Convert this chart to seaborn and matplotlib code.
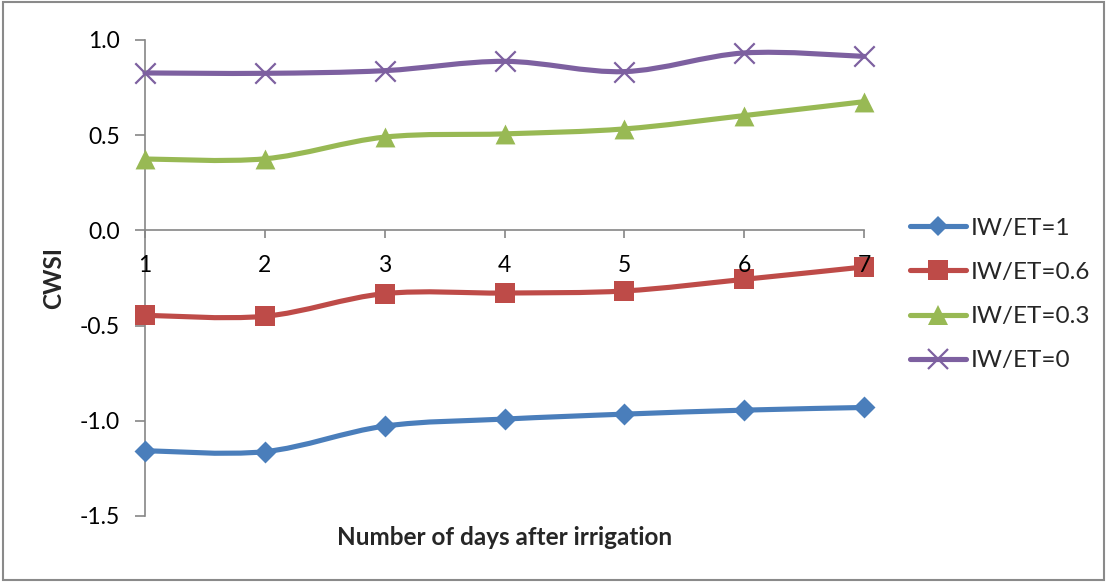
import numpy as np
import matplotlib
matplotlib.use("Agg")
import matplotlib.pyplot as plt
import seaborn as sns
from matplotlib.path import Path
from matplotlib.patches import PathPatch, Rectangle
from matplotlib.lines import Line2D

# ---- data ----
days = [1, 2, 3, 4, 5, 6, 7]
cwsi_iw1 = [-1.157, -1.162, -1.028, -0.991, -0.965, -0.944, -0.930]
cwsi_iw06 = [-0.446, -0.451, -0.332, -0.329, -0.318, -0.257, -0.192]
cwsi_iw03 = [0.375, 0.376, 0.490, 0.507, 0.533, 0.603, 0.676]
cwsi_iw0 = [0.827, 0.825, 0.839, 0.888, 0.834, 0.932, 0.914]
series_labels = ["IW/ET=1", "IW/ET=0.6", "IW/ET=0.3", "IW/ET=0"]
y_ticks = [-1.5, -1.0, -0.5, 0.0, 0.5, 1.0]
x_label = "Number of days after irrigation"
y_label = "CWSI"

series_values = [cwsi_iw1, cwsi_iw06, cwsi_iw03, cwsi_iw0]
colors = ["#4A7EBB", "#BE4B48", "#98B954", "#7D60A0"]
markers = ["D", "s", "^", "x"]
scatter_sizes = [125, 205, 205, 215]
legend_msizes = [10.5, 14, 14, 14.5]

sns.set_style("white")
plt.rcParams["font.family"] = ["Lato", "DejaVu Sans"]

fig = plt.figure(figsize=(11.07, 5.82), dpi=100)
ax = fig.add_axes([145 / 1107, 1 - 516 / 582, (864 - 145) / 1107, (516 - 40) / 582])


def smooth_path(xs, ys):
    pts = np.column_stack([xs, ys]).astype(float)
    n = len(pts)
    verts = [pts[0]]
    codes = [Path.MOVETO]
    for i in range(n - 1):
        p0 = pts[i - 1] if i > 0 else pts[i]
        p1 = pts[i]
        p2 = pts[i + 1]
        p3 = pts[i + 2] if i + 2 < n else pts[i + 1]
        c1 = p1 + (p2 - p0) / 6.0
        c2 = p2 - (p3 - p1) / 6.0
        verts += [c1, c2, p2]
        codes += [Path.CURVE4] * 3
    return Path(verts, codes)


line_w = 3.7
handles = []
for vals, col, mk, s, ms, lab in zip(series_values, colors, markers,
                                     scatter_sizes, legend_msizes, series_labels):
    patch = PathPatch(smooth_path(days, vals), facecolor="none", edgecolor=col,
                      lw=line_w, zorder=2, capstyle="round", joinstyle="round",
                      clip_on=False)
    ax.add_patch(patch)
    if mk == "x":
        sns.scatterplot(x=days, y=vals, marker=mk, s=s, color=col, linewidth=1.6,
                        ax=ax, zorder=3, clip_on=False, legend=False)
    else:
        sns.scatterplot(x=days, y=vals, marker=mk, s=s, color=col, edgecolor=col,
                        linewidth=0, ax=ax, zorder=3, clip_on=False, legend=False)
    handles.append(Line2D([], [], color=col, lw=line_w, marker=mk, markersize=ms,
                          markeredgecolor=col, markerfacecolor=col,
                          markeredgewidth=1.6 if mk == "x" else 0,
                          solid_capstyle="round"))

ax.set_xlim(1, 7)
ax.set_ylim(-1.5, 1.0)
ax.set_xticks(days)
ax.set_xticklabels([str(d) for d in days])
ax.set_yticks(y_ticks)
ax.set_yticklabels([f"{v:.1f}" for v in y_ticks])

spine_col = "#868686"
for sp in ["top", "right"]:
    ax.spines[sp].set_visible(False)
ax.spines["left"].set_color(spine_col)
ax.spines["left"].set_linewidth(1.2)
ax.spines["bottom"].set_position(("data", 0.0))
ax.spines["bottom"].set_color(spine_col)
ax.spines["bottom"].set_linewidth(1.2)

ax.tick_params(axis="y", direction="out", length=7, width=1.2, color=spine_col,
               pad=11, labelsize=16.5, labelcolor="black", left=True)
ax.tick_params(axis="x", direction="out", length=6, width=1.2, color=spine_col,
               pad=12, labelsize=16.5, labelcolor="black", bottom=True)
# axis labels drawn on top of the series, as in the reference
ax.xaxis.set_zorder(5)
ax.yaxis.set_zorder(5)

ax.set_xlabel(x_label, fontsize=17.5, fontweight="bold")
ax.xaxis.set_label_coords(0.5, -0.022)
ax.set_ylabel(y_label, fontsize=17.5, fontweight="bold")
ax.yaxis.set_label_coords(-0.111, 0.5)

leg = fig.legend(handles, series_labels, loc="center left",
                 bbox_to_anchor=(910 / 1107, 1 - 294.5 / 582),
                 frameon=False, fontsize=17.5, handlelength=2.3,
                 handletextpad=0.2, labelspacing=0.95, borderpad=0,
                 borderaxespad=0)

fig.patches.append(Rectangle((0.003, 0.003), 0.994, 0.994, transform=fig.transFigure,
                             fill=False, edgecolor="#8a8a8a", lw=1.5))

fig.savefig("out.png", dpi=100, facecolor="white")
